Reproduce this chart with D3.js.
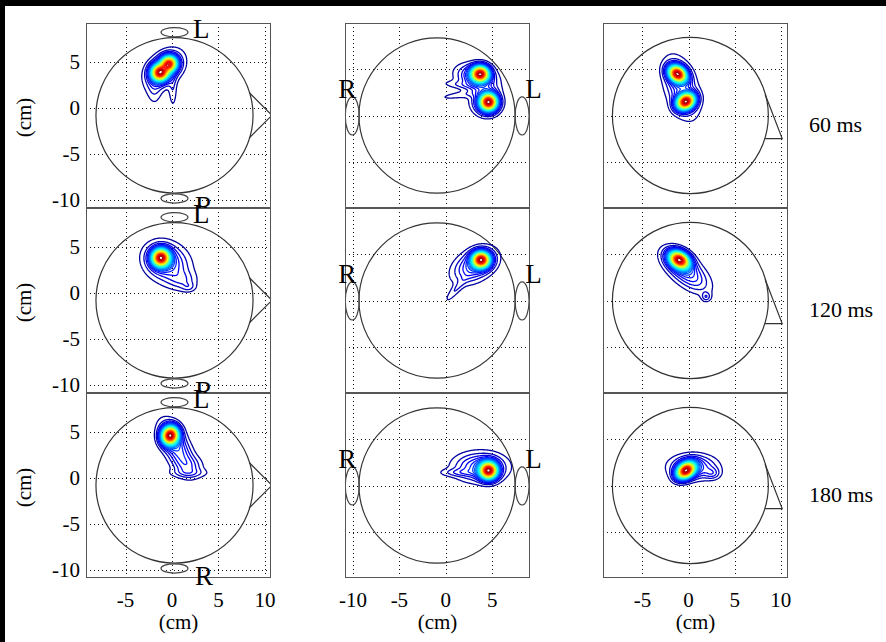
<!DOCTYPE html>
<html><head><meta charset="utf-8">
<script src="https://cdn.jsdelivr.net/npm/d3@7"></script>
<style>html,body{margin:0;padding:0;background:#000;} svg{display:block}</style>
</head><body>
<svg id="c" width="886" height="642"></svg>
<script>
// ---------------- data ----------------
const rowLabels = ["60 ms", "120 ms", "180 ms"];
const xTicksLeft = [-5, 0, 5, 10];
const xTicksMid = [-10, -5, 0, 5];
const xTicksRight = [-5, 0, 5, 10];
const yTicks = [5, 0, -5, -10];
const axisLabel = "(cm)";
const earLabels = ["L", "R"];
// head outlines (cm): [cx, cy, r]
const headTop = [0.27, -0.83, 8.45];
const headBack = [-0.95, 0, 8.4];
const headSide = [0.2, 0, 8.45];
// ears: [cx, cy, rx, ry]
const earsTop = [[0.27, 8.2, 1.45, 0.5], [0.27, -9.86, 1.45, 0.5]];
const earsBack = [[-10.07, -0.05, 0.75, 2.06], [8.2, -0.05, 0.75, 2.06]];
// noses: polyline points (cm)
const noseTop = [[8.3, 1.65], [10.75, -0.83], [8.3, -3.3]];
const noseSide = [[8.3, 2.3], [10.15, -2.5], [8.3, -2.5]];
// sources per panel: [cx, cy, sx, sy, angleDeg, amplitude]
const src60Top = [[-1.3, 3.8, 0.6, 0.58, 0, 1.0], [-0.3, 4.8, 0.56, 0.54, 0, 0.9], [-0.8, 4.2, 1.5, 1.0, 45, 0.2], [-1.9, 2.1, 0.55, 1.3, 0, 0.06], [0.1, 1.8, 0.3, 1.3, 0, 0.06]];
const src60Back = [[3.7, 4.5, 0.62, 0.56, 0, 1.0], [4.6, 1.45, 0.6, 0.6, 0, 1.0], [3.3, 4.1, 1.4, 0.85, -15, 0.2], [4.3, 1.5, 1.0, 0.95, 0, 0.18], [1.6, 3.3, 1.6, 0.3, -5, 0.05], [1.4, 2.2, 1.8, 0.28, 8, 0.05]];
const src60Side = [[-1.2, 4.5, 0.68, 0.52, -35, 1.0], [-0.3, 1.5, 0.68, 0.52, 30, 1.0], [-0.8, 3.0, 1.05, 2.1, 18, 0.17]];
const src120Top = [[-1.2, 3.8, 0.62, 0.62, 0, 1.0], [-0.6, 3.3, 1.6, 1.3, -30, 0.2], [1.2, 1.3, 1.0, 0.7, 0, 0.07], [1.8, 0.6, 0.5, 0.35, 0, 0.05]];
const src120Back = [[3.8, 4.4, 0.62, 0.56, 0, 1.0], [3.1, 3.8, 1.6, 1.0, 30, 0.2], [1.0, 1.1, 0.3, 1.2, -40, 0.06]];
const src120Side = [[-1.0, 4.4, 0.78, 0.55, -30, 1.0], [-0.3, 3.2, 1.9, 0.9, -40, 0.19], [1.9, 0.4, 0.33, 0.33, 0, 0.08]];
const src180Top = [[-0.2, 4.6, 0.58, 0.66, -20, 1.0], [0.5, 3.3, 1.9, 0.85, -63, 0.2], [1.9, 1.3, 1.0, 0.7, 0, 0.07], [1.8, 0.5, 1.6, 0.35, 0, 0.05]];
const src180Back = [[4.6, 1.6, 0.62, 0.6, 0, 1.0], [3.7, 2.0, 1.8, 1.0, 0, 0.2], [1.2, 1.4, 1.3, 0.28, 0, 0.06]];
const src180Side = [[-0.3, 1.6, 0.72, 0.5, 35, 1.0], [0.5, 2.0, 1.6, 0.85, 0, 0.2], [2.6, 1.3, 0.55, 0.42, 0, 0.08]];
const contourLevels = d3.range(0.03, 0.985, 0.03);

// ---------------- layout ----------------
const W = 886, H = 642;
const colLefts = [86, 345, 603], panelW = 185;
const rowTops = [23, 208, 393], panelH = 185;
const colXDomains = [[-9.25, 10.65], [-10.85, 9.05], [-9.27, 10.78]];
const colYDomains = [[-10.9, 9.2], [-10, 10], [-10, 10]];
const colXTicks = [xTicksLeft, xTicksMid, xTicksRight];
const colKinds = ["top", "back", "side"];
const sources = [[src60Top, src60Back, src60Side], [src120Top, src120Back, src120Side], [src180Top, src180Back, src180Side]];
const FONT = "'Liberation Serif','Times New Roman',serif";

const svg = d3.select("#c");
svg.append("rect").attr("x", 0).attr("y", 0).attr("width", W).attr("height", H).attr("fill", "#000");
svg.append("rect").attr("x", 5).attr("y", 6).attr("width", W - 5).attr("height", H - 6).attr("fill", "#fff");

function jet(t) {
  const c = v => Math.max(0, Math.min(1, v));
  const r = c(1.5 - Math.abs(4 * t - 3)), g = c(1.5 - Math.abs(4 * t - 2)), b = c(1.5 - Math.abs(4 * t - 1));
  return d3.rgb(r * 255, g * 255, b * 255).toString();
}
const snap = v => Math.round(v) + 0.5;

let clipId = 0;
for (let r = 0; r < 3; r++) {
  for (let c = 0; c < 3; c++) {
    const x0 = colLefts[c], y0 = rowTops[r];
    const xs = d3.scaleLinear().domain(colXDomains[c]).range([x0, x0 + panelW]);
    const ys = d3.scaleLinear().domain(colYDomains[c]).range([y0 + panelH, y0]);
    const g = svg.append("g");
    const id = "clip" + (clipId++);
    g.append("clipPath").attr("id", id).append("rect")
      .attr("x", x0).attr("y", y0).attr("width", panelW).attr("height", panelH);
    g.append("rect").attr("x", x0).attr("y", y0).attr("width", panelW).attr("height", panelH).attr("fill", "#fff");
    const inner = g.append("g").attr("clip-path", `url(#${id})`);
    // grid
    colXTicks[c].forEach(t => {
      inner.append("line").attr("x1", snap(xs(t))).attr("x2", snap(xs(t))).attr("y1", y0).attr("y2", y0 + panelH)
        .attr("stroke", "#111").attr("stroke-width", 1).attr("stroke-dasharray", "1,3");
    });
    yTicks.forEach(t => {
      const yy = snap(Math.min(ys(t), y0 + panelH - 1));
      inner.append("line").attr("x1", x0).attr("x2", x0 + panelW).attr("y1", yy).attr("y2", yy)
        .attr("stroke", "#111").attr("stroke-width", 1).attr("stroke-dasharray", "1,3");
    });
    const kind = colKinds[c];
    const head = kind === "top" ? headTop : kind === "back" ? headBack : headSide;
    inner.append("ellipse").attr("cx", xs(head[0])).attr("cy", ys(head[1]))
      .attr("rx", xs(head[2]) - xs(0)).attr("ry", ys(0) - ys(head[2]))
      .attr("fill", "none").attr("stroke", "#333").attr("stroke-width", 1.2);
    const ears = kind === "top" ? earsTop : kind === "back" ? earsBack : [];
    ears.forEach(e => {
      inner.append("ellipse").attr("cx", xs(e[0])).attr("cy", ys(e[1]))
        .attr("rx", xs(e[2]) - xs(0)).attr("ry", ys(0) - ys(e[3]))
        .attr("fill", "none").attr("stroke", "#444").attr("stroke-width", 1.2);
    });
    const nose = kind === "top" ? noseTop : kind === "side" ? noseSide : null;
    if (nose) {
      inner.append("path").attr("d", d3.line().x(p => xs(p[0])).y(p => ys(p[1]))(nose))
        .attr("fill", "none").attr("stroke", "#333").attr("stroke-width", 1.2);
    }
    // field
    const step = 0.06;
    const gx0 = colXDomains[c][0], gy1 = colYDomains[c][1];
    const nx = Math.ceil((colXDomains[c][1] - gx0) / step) + 1;
    const ny = Math.ceil((gy1 - colYDomains[c][0]) / step) + 1;
    const vals = new Float64Array(nx * ny);
    const src = sources[r][c].map(s => ({ cx: s[0], cy: s[1], sx: s[2], sy: s[3], ca: Math.cos(s[4] * Math.PI / 180), sa: Math.sin(s[4] * Math.PI / 180), a: s[5] }));
    let mx = 0;
    for (let j = 0; j < ny; j++) {
      const y = gy1 - j * step;
      for (let i = 0; i < nx; i++) {
        const x = gx0 + i * step;
        let v = 0;
        for (const s of src) {
          const dx = x - s.cx, dy = y - s.cy;
          const u = dx * s.ca + dy * s.sa, w = -dx * s.sa + dy * s.ca;
          v += s.a * Math.exp(-0.5 * (u * u / (s.sx * s.sx) + w * w / (s.sy * s.sy)));
        }
        vals[i + j * nx] = v;
        if (v > mx) mx = v;
      }
    }
    for (let k = 0; k < vals.length; k++) vals[k] /= mx;
    const conts = d3.contours().size([nx, ny]).thresholds(contourLevels)(vals);
    const proj = d3.geoTransform({
      point: function (px, py) { this.stream.point(xs(gx0 + (px - 0.5) * step), ys(gy1 - (py - 0.5) * step)); }
    });
    const path = d3.geoPath(proj);
    inner.append("g").selectAll("path").data(conts).join("path")
      .attr("d", path).attr("fill", "none")
      .attr("stroke", d => jet(d.value)).attr("stroke-width", 1.3);
    // frame
    g.append("rect").attr("x", x0 + 0.5).attr("y", y0 + 0.5).attr("width", panelW - 1).attr("height", panelH - 1)
      .attr("fill", "none").attr("stroke", "#555").attr("stroke-width", 1);
    // ear labels
    const lbl = (x, y, t) => g.append("text").attr("x", x).attr("y", y).text(t)
      .attr("font-family", FONT).attr("font-size", 27).attr("fill", "#000");
    if (kind === "top") {
      lbl(xs(2.26), ys(7.58), earLabels[0]);
      lbl(xs(2.47), ys(-11.66), earLabels[1]);
    } else if (kind === "back") {
      lbl(xs(-11.58), ys(1.9), earLabels[1]);
      lbl(xs(8.53), ys(1.9), earLabels[0]);
    }
    // y tick labels (left col)
    if (c === 0) {
      yTicks.forEach(t => {
        g.append("text").attr("x", x0 - 6).attr("y", ys(t)).attr("dy", "0.36em")
          .attr("text-anchor", "end").text(t).attr("font-family", FONT).attr("font-size", 21).attr("fill", "#000");
      });
      g.append("text").attr("transform", `translate(31,${y0 + panelH / 2 + 2}) rotate(-90)`)
        .attr("text-anchor", "middle").text(axisLabel).attr("font-family", FONT).attr("font-size", 21).attr("fill", "#000");
    }
    if (r === 2) {
      colXTicks[c].forEach(t => {
        g.append("text").attr("x", xs(t)).attr("y", y0 + panelH + 29).attr("text-anchor", "middle")
          .text(t).attr("font-family", FONT).attr("font-size", 21).attr("fill", "#000");
      });
      g.append("text").attr("x", x0 + panelW / 2).attr("y", 629).attr("text-anchor", "middle")
        .text(axisLabel).attr("font-family", FONT).attr("font-size", 21).attr("fill", "#000");
    }
    if (c === 2) {
      g.append("text").attr("x", 809).attr("y", y0 + 109).text(rowLabels[r])
        .attr("font-family", FONT).attr("font-size", 22).attr("fill", "#000");
    }
  }
}
</script>
</body></html>
